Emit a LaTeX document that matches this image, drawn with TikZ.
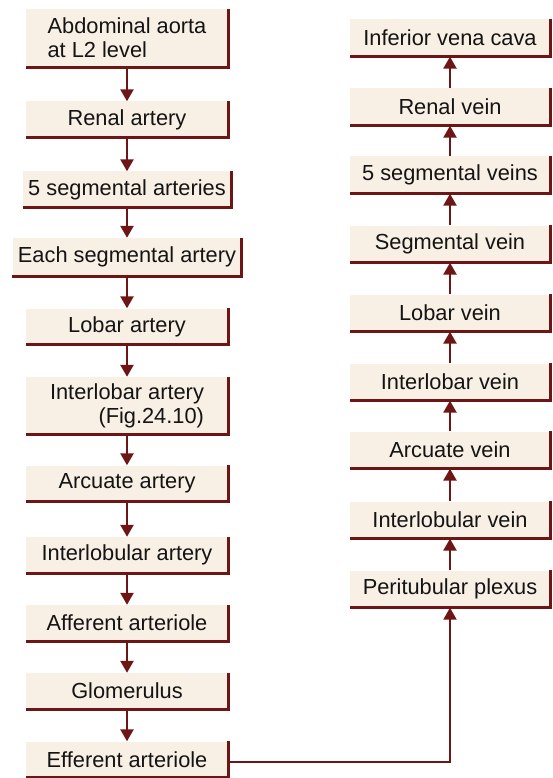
\documentclass[tikz,border=0pt]{standalone}
\usepackage{fontspec}
\setmainfont{Liberation Sans}
\usetikzlibrary{arrows.meta}
\definecolor{boxfill}{HTML}{F8EFE5}
\definecolor{bordercol}{HTML}{6E1616}
\definecolor{txt}{HTML}{141414}
\begin{document}
\begin{tikzpicture}[x=1pt,y=-1pt,
  box/.style={fill=boxfill, inner sep=0pt, minimum height=36pt, minimum width=202pt,
    font=\fontsize{21.8}{24}\selectfont, text=txt, align=center},
  rbox/.style={box, minimum width=200pt, minimum height=37pt},
  arr/.style={draw=bordercol, line width=2.5pt, -{Triangle[length=12pt,width=13pt]}},
  edgeline/.style={draw=bordercol, line width=3pt}
]
\useasboundingbox (0,0) rectangle (553,778);
\fill[white] (0,0) rectangle (553,778);
% left column
\node[box, minimum height=58pt, align=left] (A1) at (127,38) {Abdominal aorta\\at L2 level};
\node[box] (A2) at (127,119.5) {Renal artery};
\node[box, minimum width=208pt] (A3) at (127,189.5) {5 segmental arteries};
\node[box, minimum width=229pt, minimum height=38pt] (A4) at (127,257) {Each segmental artery};
\node[box] (A5) at (127,326.5) {Lobar artery};
\node[box, minimum height=57pt, align=right] (A6) at (127,405.5) {Interlobar artery\\(Fig.24.10)};
\node[box] (A7) at (127,483.5) {Arcuate artery};
\node[box] (A8) at (127,555) {Interlobular artery};
\node[box] (A9) at (127,623) {Afferent arteriole};
\node[box] (A10) at (127,691) {Glomerulus};
\node[box] (A11) at (127,759.5) {Efferent arteriole};
% right column
\node[rbox] (B1) at (450,38) {Inferior vena cava};
\node[rbox] (B2) at (450,107) {Renal vein};
\node[rbox] (B3) at (450,175) {5 segmental veins};
\node[rbox] (B4) at (450,244) {Segmental vein};
\node[rbox] (B5) at (450,313) {Lobar vein};
\node[rbox] (B6) at (450,382) {Interlobar vein};
\node[rbox] (B7) at (450,450) {Arcuate vein};
\node[rbox] (B8) at (450,520) {Interlobular vein};
\node[rbox] (B9) at (450,589) {Peritubular plexus};
% borders
\foreach \n in {A1,A2,A3,A4,A5,A6,A7,A8,A9,A10,A11,B1,B2,B3,B4,B5,B6,B7,B8,B9}
  \draw[edgeline] (\n.north east) -- (\n.south east) -- (\n.south west);
% arrows
\foreach \a/\b in {A1/A2,A2/A3,A3/A4,A4/A5,A5/A6,A6/A7,A7/A8,A8/A9,A9/A10,A10/A11}
  \draw[arr] (\a.south) -- (\b.north);
\foreach \a/\b in {B2/B1,B3/B2,B4/B3,B5/B4,B6/B5,B7/B6,B8/B7,B9/B8}
  \draw[arr] (\a.north) -- (\b.south);
\draw[arr, line width=2pt] ([yshift=-2.5pt]A11.east) -| (B9.south);
\end{tikzpicture}
\end{document}
